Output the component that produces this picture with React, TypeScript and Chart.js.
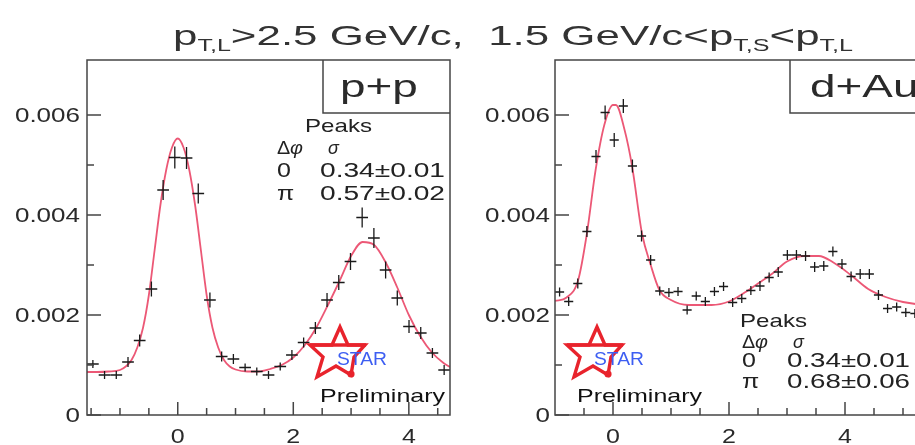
import React, { useEffect, useRef } from "react";
import { Chart, registerables } from "chart.js";

Chart.register(...registerables);

// ---------------- data: p+p ----------------
const ppBinCenters = [
  -1.469, -1.267, -1.064, -0.861, -0.659, -0.456, -0.253, -0.051, 0.152, 0.355, 0.557,
  0.76, 0.963, 1.166, 1.368, 1.571, 1.774, 1.976, 2.179, 2.382, 2.584, 2.787, 2.99,
  3.192, 3.395, 3.598, 3.8, 4.003, 4.206, 4.408, 4.611,
];
const ppValues = [
  0.00102, 0.0008, 0.0008, 0.00106, 0.00149, 0.00252, 0.0045, 0.00515, 0.00514, 0.00443,
  0.0023, 0.00117, 0.00112, 0.00095, 0.00087, 0.0008, 0.00097, 0.0012, 0.00145, 0.00174,
  0.0023, 0.00265, 0.00307, 0.00395, 0.00354, 0.0029, 0.00234, 0.00177, 0.00164, 0.00124,
  0.0009,
];
const ppErrors = [
  0.00008, 0.00008, 0.00008, 0.0001, 0.00012, 0.00015, 0.0002, 0.00022, 0.00022, 0.0002,
  0.00015, 0.0001, 0.0001, 0.00008, 0.00008, 0.00008, 0.00008, 0.0001, 0.0001, 0.00012,
  0.00014, 0.00015, 0.00017, 0.0002, 0.0002, 0.00017, 0.00015, 0.00013, 0.00012, 0.0001,
  0.0001,
];
const ppBinWidth = 0.2027;
const ppFitX = [
  -1.571, -1.4, -1.2, -1.0, -0.9, -0.8, -0.7, -0.6, -0.5, -0.4, -0.3, -0.2, -0.1, 0, 0.1,
  0.2, 0.3, 0.4, 0.5, 0.6, 0.7, 0.8, 0.9, 1.0, 1.2, 1.4, 1.6, 1.8, 2.0, 2.2, 2.4, 2.6, 2.8,
  3.0, 3.2, 3.4, 3.6, 3.8, 4.0, 4.2, 4.4, 4.6, 4.712,
];
const ppFitY = [
  0.00086, 0.00086, 0.00087, 0.0009, 0.00097, 0.0011, 0.00135, 0.00175, 0.0024, 0.0033,
  0.0042, 0.0049, 0.00535, 0.00553, 0.00535, 0.0049, 0.0042, 0.0033, 0.0024, 0.00175,
  0.00135, 0.0011, 0.00097, 0.00091, 0.00087, 0.00087, 0.00092, 0.001, 0.00115, 0.0014,
  0.00175, 0.0022, 0.00268, 0.00318, 0.00346, 0.0034, 0.00305, 0.00255, 0.002, 0.00157,
  0.00125, 0.00104, 0.00096,
];
const ppSigmas = ["0.34\u00b10.01", "0.57\u00b10.02"];

// ---------------- data: d+Au ----------------
const dauBinCenters = [
  -0.921, -0.764, -0.607, -0.45, -0.293, -0.136, 0.021, 0.178, 0.335, 0.492, 0.649, 0.806,
  0.964, 1.121, 1.278, 1.435, 1.592, 1.749, 1.906, 2.063, 2.22, 2.377, 2.534, 2.692, 2.849,
  3.006, 3.163, 3.32, 3.477, 3.634, 3.791, 3.948, 4.105, 4.262, 4.42, 4.577, 4.734, 4.891,
  5.048, 5.205,
];
const dauValues = [
  0.00246, 0.00227, 0.00263, 0.00367, 0.00517, 0.00605, 0.0055, 0.00618, 0.00498, 0.00358,
  0.0031, 0.00248, 0.00245, 0.00247, 0.0021, 0.00238, 0.00227, 0.00247, 0.00257, 0.00225,
  0.00233, 0.00249, 0.00258, 0.00275, 0.00286, 0.0032, 0.0032, 0.00318, 0.00296, 0.00298,
  0.00327, 0.00302, 0.00277, 0.00282, 0.00282, 0.0024, 0.00213, 0.00216, 0.00205, 0.00203,
];
const dauErrors = [
  0.00009, 0.00009, 0.0001, 0.00011, 0.00013, 0.00014, 0.00014, 0.00014, 0.00013, 0.00011,
  0.0001, 0.00009, 0.00009, 0.00009, 0.00009, 0.00009, 0.00009, 0.00009, 0.00009, 0.00009,
  0.00009, 0.00009, 0.0001, 0.0001, 0.0001, 0.0001, 0.0001, 0.0001, 0.0001, 0.0001, 0.0001,
  0.0001, 0.0001, 0.0001, 0.0001, 0.0001, 0.00009, 0.00009, 0.00009, 0.00009,
];
const dauBinWidth = 0.15708;
const dauFitX = [
  -1.0, -0.8, -0.6, -0.45, -0.3, -0.15, 0.0, 0.05, 0.2, 0.33, 0.5, 0.65, 0.8, 1.0, 1.3, 1.7,
  2.0, 2.3, 2.5, 2.75, 3.0, 3.3, 3.55, 3.8, 4.1, 4.4, 4.7, 5.0, 5.283,
];
const dauFitY = [
  0.00228, 0.00235, 0.0027, 0.00363, 0.0049, 0.0058, 0.0062, 0.0062, 0.0057, 0.00497,
  0.00363, 0.003, 0.0025, 0.0023, 0.0022, 0.0022, 0.00227, 0.00247, 0.00263, 0.00283,
  0.00307, 0.00318, 0.00318, 0.00305, 0.0028, 0.00252, 0.00236, 0.00226, 0.00221,
];
const dauSigmas = ["0.34\u00b10.01", "0.68\u00b10.06"];

// ---------------- axes ----------------
const yMajorTicks = [0, 0.002, 0.004, 0.006];
const yTickLabels = ["0", "0.002", "0.004", "0.006"];
const yMinorTicks = [0.001, 0.003, 0.005];
const xMajorTicks = [0, 2, 4];
const xTickLabels = ["0", "2", "4"];
const ppXMinorTicks = [-1.5, -1, -0.5, 0.5, 1, 1.5, 2.5, 3, 3.5, 4.5];
const dauXMinorTicks = [-0.5, 0.5, 1, 1.5, 2.5, 3, 3.5, 4.5, 5];
const peakLabels = ["0", "\u03c0"];
const titleParts: [string, boolean][] = [
  ["p", false],
  ["T,L", true],
  [">2.5 GeV/c,  1.5 GeV/c<", false],
  ["p", false],
  ["T,S", true],
  ["<", false],
  ["p", false],
  ["T,L", true],
];

const FONT = '"Liberation Sans", Arial, Helvetica, sans-serif';

function drawText(ctx: CanvasRenderingContext2D, s: string, x: number, y: number, size: number, o: any = {}) {
  ctx.save();
  ctx.font = `${o.italic ? "italic " : ""}${o.bold ? "bold " : ""}${size}px ${FONT}`;
  ctx.fillStyle = o.color || "#222";
  ctx.textAlign = "left";
  ctx.textBaseline = "alphabetic";
  const w = ctx.measureText(s).width;
  const sx = o.width ? o.width / w : o.sx ?? 1;
  const W = w * sx;
  const left = o.align === "right" ? x - W : o.align === "center" ? x - W / 2 : x;
  ctx.translate(left, y);
  ctx.scale(sx, 1);
  ctx.fillText(s, 0, 0);
  ctx.restore();
  return W;
}

const STAR_SHAPE = [
  [340, 327], [348, 345], [365, 345], [354, 357], [351, 375], [336, 366],
  [317, 377], [323, 357], [310, 345], [332, 345],
];

function drawStarLogo(ctx: CanvasRenderingContext2D, dx: number) {
  ctx.save();
  ctx.strokeStyle = "#e8232c";
  ctx.fillStyle = "#e8232c";
  ctx.lineWidth = 3.4;
  ctx.lineJoin = "miter";
  ctx.beginPath();
  STAR_SHAPE.forEach(([x, y], i) => (i ? ctx.lineTo(x + dx, y) : ctx.moveTo(x + dx, y)));
  ctx.closePath();
  ctx.stroke();
  ctx.beginPath();
  ctx.moveTo(310 + dx, 345);
  ctx.lineTo(366 + dx, 345);
  ctx.stroke();
  ctx.beginPath();
  ctx.arc(351 + dx, 374, 3.6, 0, Math.PI * 2);
  ctx.fill();
  ctx.restore();
  drawText(ctx, "STAR", 337 + dx, 365, 19, { width: 50, color: "#3d5ef2" });
  drawText(ctx, "Preliminary", 320 + dx, 402, 19, { width: 125, color: "#111" });
}

function drawTitle(ctx: CanvasRenderingContext2D) {
  const MAIN = 28, SUB = 16;
  let total = 0;
  ctx.save();
  titleParts.forEach(([t, sub]) => {
    ctx.font = `${sub ? SUB : MAIN}px ${FONT}`;
    total += ctx.measureText(t).width;
  });
  ctx.restore();
  const sx = 680 / total;
  let x = 173;
  titleParts.forEach(([t, sub]) => {
    x += drawText(ctx, t, x, sub ? 51 : 45, sub ? SUB : MAIN, { sx, color: "#333" });
  });
}

type Panel = {
  centers: number[];
  values: number[];
  errors: number[];
  binWidth: number;
  fitX: number[];
  fitY: number[];
  xMin: number;
  xMax: number;
  yMax: number;
  canvasWidth: number;
  padding: { left: number; right: number; top: number; bottom: number };
  xMinor: number[];
  labelRight: number;
  system: string;
  systemX: number;
  boxLeft: number;
  boxBottom: number;
  sigmas: string[];
  peaks: { px: number; py: number; dphiX: number; sigX: number; hdrY: number; rowX: number; valX: number; rowY: number[]; valW: number };
  starDx: number;
  title: boolean;
};

function panelPlugin(p: Panel) {
  return {
    id: "panelDecor",
    afterDatasetsDraw(chart: any) {
      const ctx: CanvasRenderingContext2D = chart.ctx;
      const xs = chart.scales.x;
      const ys = chart.scales.y;
      const a = chart.chartArea;
      ctx.save();
      ctx.beginPath();
      ctx.rect(a.left, a.top, a.right - a.left, a.bottom - a.top);
      ctx.clip();
      ctx.strokeStyle = "#1a1a1a";
      ctx.lineWidth = 1.3;
      p.centers.forEach((c, i) => {
        const v = p.values[i];
        const e = p.errors[i];
        const px = xs.getPixelForValue(c);
        const py = ys.getPixelForValue(v);
        const x0 = xs.getPixelForValue(c - p.binWidth / 2);
        const x1 = xs.getPixelForValue(c + p.binWidth / 2);
        const y0 = ys.getPixelForValue(v - e);
        const y1 = ys.getPixelForValue(v + e);
        ctx.beginPath();
        ctx.moveTo(x0, py);
        ctx.lineTo(x1, py);
        ctx.moveTo(px, y0);
        ctx.lineTo(px, y1);
        ctx.stroke();
      });
      ctx.restore();
    },
    afterDraw(chart: any) {
      const ctx: CanvasRenderingContext2D = chart.ctx;
      const xs = chart.scales.x;
      const ys = chart.scales.y;
      const a = chart.chartArea;
      ctx.save();
      ctx.strokeStyle = "#454545";
      ctx.lineWidth = 1.5;
      ctx.strokeRect(a.left, a.top, a.right - a.left, a.bottom - a.top);
      ctx.beginPath();
      yMajorTicks.forEach((v) => {
        const y = ys.getPixelForValue(v);
        ctx.moveTo(a.left, y);
        ctx.lineTo(a.left + 14, y);
      });
      yMinorTicks.forEach((v) => {
        const y = ys.getPixelForValue(v);
        ctx.moveTo(a.left, y);
        ctx.lineTo(a.left + 7, y);
      });
      xMajorTicks.forEach((v) => {
        const x = xs.getPixelForValue(v);
        ctx.moveTo(x, a.bottom);
        ctx.lineTo(x, a.bottom - 13);
      });
      p.xMinor.forEach((v) => {
        const x = xs.getPixelForValue(v);
        ctx.moveTo(x, a.bottom);
        ctx.lineTo(x, a.bottom - 7);
      });
      // system label box
      ctx.moveTo(p.boxLeft, a.top);
      ctx.lineTo(p.boxLeft, p.boxBottom);
      ctx.lineTo(a.right, p.boxBottom);
      ctx.stroke();
      ctx.restore();

      yMajorTicks.forEach((v, i) => {
        drawText(ctx, yTickLabels[i], p.labelRight, ys.getPixelForValue(v) + 7, 20, { align: "right", sx: 1.3, color: "#2a2a2a" });
      });
      xMajorTicks.forEach((v, i) => {
        drawText(ctx, xTickLabels[i], xs.getPixelForValue(v), 443, 20, { align: "center", sx: 1.25, color: "#2a2a2a" });
      });

      drawText(ctx, p.system, p.systemX, 97, 31, { sx: 1.48, color: "#2a2a2a" });

      const k = p.peaks;
      drawText(ctx, "Peaks", k.px, k.py, 19, { width: 67 });
      drawText(ctx, "\u0394", k.dphiX, k.hdrY, 18, { sx: 1.1 });
      drawText(ctx, "\u03c6", k.dphiX + 13, k.hdrY, 18, { italic: true, sx: 1.1 });
      drawText(ctx, "\u03c3", k.sigX, k.hdrY, 18, { italic: true });
      peakLabels.forEach((lab, i) => {
        drawText(ctx, lab, k.rowX, k.rowY[i], 20, { sx: 1.25 });
        drawText(ctx, p.sigmas[i], k.valX, k.rowY[i], 20, { width: k.valW });
      });

      drawStarLogo(ctx, p.starDx);
      if (p.title) drawTitle(ctx);
    },
  };
}

function makeChart(canvas: HTMLCanvasElement, p: Panel) {
  return new Chart(canvas, {
    type: "scatter",
    data: {
      datasets: [
        {
          type: "line",
          label: "fit",
          data: p.fitX.map((x, i) => ({ x, y: p.fitY[i] })),
          borderColor: "rgb(236,88,118)",
          borderWidth: 1.8,
          pointRadius: 0,
          fill: false,
          cubicInterpolationMode: "monotone",
        } as any,
        {
          type: "scatter",
          label: "data",
          data: p.centers.map((x, i) => ({ x, y: p.values[i] })),
          pointRadius: 0,
        } as any,
      ],
    },
    options: {
      responsive: false,
      animation: false,
      devicePixelRatio: 1,
      events: [],
      layout: { padding: p.padding },
      plugins: { legend: { display: false }, tooltip: { enabled: false }, title: { display: false } },
      scales: {
        x: { type: "linear", min: p.xMin, max: p.xMax, display: false },
        y: { type: "linear", min: 0, max: p.yMax, display: false },
      },
    },
    plugins: [panelPlugin(p)],
  } as any);
}

const ppPanel: Panel = {
  centers: ppBinCenters,
  values: ppValues,
  errors: ppErrors,
  binWidth: ppBinWidth,
  fitX: ppFitX,
  fitY: ppFitY,
  xMin: -Math.PI / 2,
  xMax: (3 * Math.PI) / 2,
  yMax: 0.0071,
  canvasWidth: 915,
  padding: { left: 87, right: 915 - 450, top: 60, bottom: 30 },
  xMinor: ppXMinorTicks,
  labelRight: 80,
  system: "p+p",
  systemX: 340,
  boxLeft: 323,
  boxBottom: 113,
  sigmas: ppSigmas,
  peaks: { px: 305, py: 132, dphiX: 277, sigX: 328, hdrY: 154, rowX: 277, valX: 320, rowY: [177, 200], valW: 125 },
  starDx: 0,
  title: true,
};

const dauPanel: Panel = {
  centers: dauBinCenters,
  values: dauValues,
  errors: dauErrors,
  binWidth: dauBinWidth,
  fitX: dauFitX,
  fitY: dauFitY,
  xMin: -1,
  xMax: 2 * Math.PI - 1,
  yMax: 0.0071,
  canvasWidth: 935,
  padding: { left: 555, right: 935 - 555 - 2 * Math.PI * 58, top: 60, bottom: 30 },
  xMinor: dauXMinorTicks,
  labelRight: 550,
  system: "d+Au",
  systemX: 810,
  boxLeft: 790,
  boxBottom: 113,
  sigmas: dauSigmas,
  peaks: { px: 740, py: 327, dphiX: 742, sigX: 793, hdrY: 348, rowX: 742, valX: 787, rowY: [367, 388], valW: 123 },
  starDx: 257,
  title: false,
};

export default function App() {
  const leftRef = useRef<HTMLCanvasElement>(null);
  const rightRef = useRef<HTMLCanvasElement>(null);
  useEffect(() => {
    const c1 = makeChart(leftRef.current!, ppPanel);
    const c2 = makeChart(rightRef.current!, dauPanel);
    return () => {
      c1.destroy();
      c2.destroy();
    };
  }, []);
  return (
    <div style={{ position: "fixed", left: 0, top: 0, width: 915, height: 445, overflow: "hidden", background: "#fff" }}>
      <canvas ref={leftRef} width={ppPanel.canvasWidth} height={445} style={{ position: "absolute", left: 0, top: 0 }} />
      <canvas ref={rightRef} width={dauPanel.canvasWidth} height={445} style={{ position: "absolute", left: 0, top: 0 }} />
    </div>
  );
}
